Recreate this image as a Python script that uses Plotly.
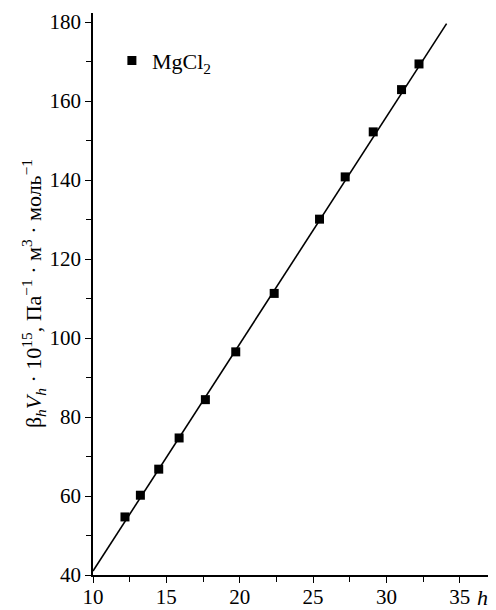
import plotly.graph_objects as go

h_vals = [12.18, 13.23, 14.48, 15.87, 17.66, 19.73, 22.35, 25.44, 27.19, 29.10, 31.03, 32.22]
bv_vals = [54.7, 60.2, 66.8, 74.7, 84.4, 96.5, 111.3, 130.1, 140.8, 152.2, 162.9, 169.4]
fit_h = [10.0, 34.1]
fit_bv = [41.0, 179.6]
x_ticks = [10, 15, 20, 25, 30, 35]
y_ticks = [40, 60, 80, 100, 120, 140, 160, 180]

FONT = "Liberation Serif"

fig = go.Figure()
fig.add_trace(go.Scatter(x=fit_h, y=fit_bv, mode="lines",
                         line=dict(color="black", width=1.6), showlegend=False))
fig.add_trace(go.Scatter(x=h_vals, y=bv_vals, mode="markers", name="MgCl<sub>2</sub>",
                         marker=dict(symbol="square", size=9, color="black")))

axis_common = dict(showgrid=False, zeroline=False, showline=True, linecolor="black",
                   linewidth=1.5, ticks="outside", ticklen=6, tickwidth=1.3,
                   tickcolor="black", tickfont=dict(family=FONT, size=21, color="black"),
                   mirror=False, automargin=False)

fig.update_xaxes(range=[10, 37.4], tickvals=x_ticks, ticklabelstandoff=-4, **axis_common,
                 minor=dict(dtick=2.5, tick0=10, ticks="outside", ticklen=5,
                            tickwidth=1.2, tickcolor="black"))
fig.update_yaxes(range=[40, 182.3], tickvals=y_ticks, **axis_common,
                 minor=dict(dtick=10, tick0=40, ticks="outside", ticklen=5,
                            tickwidth=1.2, tickcolor="black"))

fig.add_annotation(text="<i>h</i>", xref="paper", yref="paper", x=0.97, y=-0.04,
                   xanchor="center", yanchor="middle", showarrow=False,
                   font=dict(family=FONT, size=22, color="black"))
fig.add_annotation(
    text="β<sub><i>h</i></sub><i>V</i><sub><i>h</i></sub> · 10<sup>15</sup>, Па<sup>−1</sup> · м<sup>3</sup> · моль<sup>−1</sup>",
    xref="paper", yref="paper", x=-0.149, y=0.50, xanchor="center", yanchor="middle",
    textangle=-90, showarrow=False, font=dict(family=FONT, size=22, color="black"))

# page body has an 8px default margin, so the figure is sized/offset to compensate
fig.update_layout(
    template="none",
    width=488, height=602,
    margin=dict(l=85, r=1, t=5, b=35, autoexpand=False),
    paper_bgcolor="white", plot_bgcolor="white",
    showlegend=True,
    legend=dict(x=0.047, y=0.915, xanchor="left", yanchor="middle",
                bgcolor="rgba(0,0,0,0)", font=dict(family=FONT, size=22, color="black"),
                itemwidth=30),
)

fig.write_html("out.html")
